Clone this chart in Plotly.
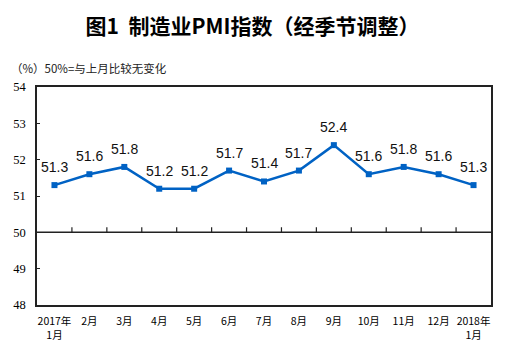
import plotly.graph_objects as go

months = ["2017年<br>1月", "2月", "3月", "4月", "5月", "6月", "7月", "8月", "9月",
          "10月", "11月", "12月", "2018年<br>1月"]
pmi = [51.3, 51.6, 51.8, 51.2, 51.2, 51.7, 51.4, 51.7, 52.4, 51.6, 51.8, 51.6, 51.3]
y_ticks = [48, 49, 50, 51, 52, 53, 54]
baseline = 50
title_text = "图1  制造业PMI指数（经季节调整）"
note_text = "（%）50%=与上月比较无变化"

line_color = "#0062C4"
axis_color = "#222"

fig = go.Figure()
fig.add_trace(go.Scatter(
    x=months, y=pmi, mode="lines+markers",
    line=dict(color=line_color, width=2.5),
    marker=dict(symbol="square", size=6, color=line_color),
    hoverinfo="skip", showlegend=False,
))

# 50% reference line with category-boundary ticks pointing up
fig.add_shape(type="line", xref="paper", yref="y", x0=0, x1=1, y0=baseline, y1=baseline,
              line=dict(color=axis_color, width=1.5))
for i in range(len(months) - 1):
    fig.add_shape(type="line", xref="x", yref="y",
                  x0=i + 0.5, x1=i + 0.5, y0=baseline, y1=baseline + 0.14,
                  line=dict(color=axis_color, width=1.2))

for m, v in zip(months, pmi):
    fig.add_annotation(x=m, y=v, text=f"{v:.1f}", showarrow=False,
                       yshift=18, font=dict(family="Liberation Sans", size=14, color="#111"))

fig.add_annotation(xref="paper", yref="paper", x=-0.061, y=1.087, xanchor="left",
                   yanchor="middle", text=note_text, showarrow=False,
                   font=dict(family="Noto Sans CJK SC", size=11.5, color="#222"))

fig.update_layout(
    width=505, height=354,
    margin=dict(l=37, r=13, t=87, b=45),
    paper_bgcolor="white", plot_bgcolor="white",
    title=dict(text="<b>" + title_text + "</b>", x=0.5, xanchor="center",
               y=1 - 27 / 354, yanchor="middle",
               font=dict(family="Noto Sans CJK SC", size=21, color="#000")),
    xaxis=dict(type="category", showline=True, mirror=True, linecolor=axis_color, linewidth=1.5,
               ticks="outside", ticklen=6, tickcolor="rgba(0,0,0,0)", showgrid=False,
               tickfont=dict(family="Noto Sans CJK SC", size=10.5, color="#000"),
               range=[-0.5, 12.5], fixedrange=True),
    yaxis=dict(range=[48, 54], tickvals=y_ticks, showline=True, mirror=True,
               linecolor=axis_color, linewidth=1.5, ticks="inside", ticklen=3,
               tickcolor=axis_color, showgrid=False, zeroline=False, ticklabelstandoff=7,
               tickfont=dict(family="Liberation Serif", size=12.5, color="#000")),
)

fig.write_html("out.html")
